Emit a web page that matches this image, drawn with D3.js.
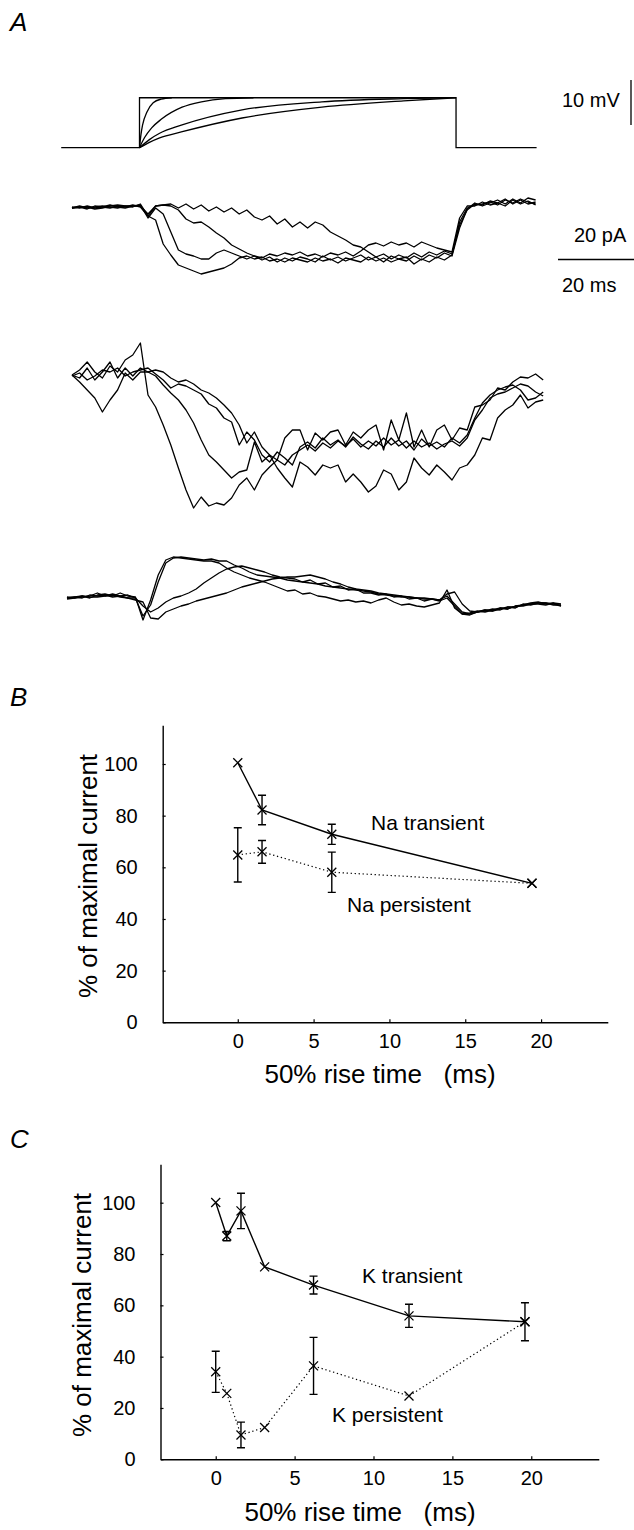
<!DOCTYPE html>
<html>
<head>
<meta charset="utf-8">
<script src="https://cdn.jsdelivr.net/npm/d3@7"></script>
<style>
  body { margin: 0; background: #fff; }
  svg { display: block; }
  text { font-family: "Liberation Sans", Arial, sans-serif; fill: #000; }
</style>
</head>
<body>
<div id="chart"></div>
<script>
// ---- panel A: command pulse (mV) and ramps, [ms, mV]
const commandPulse = [[-20.6, 0], [0, 0], [0, 11.1], [83.3, 11.1], [83.3, 0], [104.5, 0]];
const ramp1 = [[0, 0], [0.4, 3.0], [0.8, 5.0], [2, 8.0], [3.6, 10.0], [5.7, 10.8], [8.5, 11.1]];
const ramp2 = [[0, 0], [1.3, 2.2], [3.2, 4.4], [5.7, 6.3], [11.2, 9.0], [16.3, 10.2], [22.6, 10.9], [30, 11.1]];
const ramp3 = [[0, 0], [2.6, 1.8], [5.3, 3.2], [11, 5.0], [27, 8.4], [48, 10.2], [69.5, 10.9], [80, 11.1]];
const ramp4 = [[0, 0], [2.6, 1.2], [5.3, 2.2], [11, 3.5], [27, 6.6], [48, 9.0], [69.5, 10.4], [83.3, 11.1]];

// current sweeps sampled every 2 ms from -20 ms (pA)
const sweepStart = -20, sweepStep = 2;

const topTrace1 = [0, 0.5, -0.5, 1, 0.5, 0, 1, 0.5, 1.5, 0.5,
  -4, -6, -18, -23.5, -28.5, -30, -31.5, -33, -32, -31, -30, -28, -25, -24, -25.5, -24.5, -26.5, -25.5, -27, -25,
  -26, -27, -25, -26.5, -25.5, -27.5, -25, -26, -27, -24.5, -26.5, -25, -27, -25.5, -24.5, -28, -25.5, -27, -24.5, -26,
  -23.5, -7, 0, 1.5, 2, 3, 1.5, 4, 2.5, 4.5, 3, 2];
const topTrace2 = [0, 1, 0, 0.5, 1, 0.5, 0, 1, 1, 1.5,
  -5, 0, -3, -12, -21, -23, -24, -25.5, -25.5, -22.5, -21, -22.5, -24, -25.5, -24, -26, -24.5, -27, -25, -26.5,
  -24.5, -25.5, -27, -24, -26, -24.5, -26.5, -25, -23.5, -26, -24.5, -27, -24, -25.5, -26.5, -24, -26, -23.5, -25, -22.5,
  -24, -10, -0.5, 2.5, 1, 2.5, 4, 2, 4.5, 2.5, 5, 4];
const topTrace3 = [0.5, 0, 1, 0, 0.5, 1.5, 0.5, 0, 1, 1,
  -3, 1, 1.5, 1, -1, -5.5, -7.5, -7, -9.5, -12.5, -15, -18.5, -20.5, -22.5, -24, -25, -23, -24, -22.5, -23.5,
  -22, -24, -23, -24.5, -22.5, -23.5, -22, -24, -21.5, -18.5, -17.5, -19, -17, -18.5, -17.5, -19.5, -17, -18.5, -20, -21,
  -22, -5, 1, 1, 3, 1.5, 2.5, 4.5, 2, 4, 2, 3];
const topTrace4 = [0, 0.5, 0.5, -0.5, 0, 1, 1.5, 1, 0.5, 2,
  -4, 1, 1.5, 2, 0, 2, -0.5, 1.5, -1.5, 0.5, -2, 0, -3, -1, -4.5, -6, -4, -8, -5.5, -9.5,
  -7, -10, -7, -8.5, -12, -14, -16, -18.5, -19.5, -22, -24.5, -23, -25.5, -23.5, -25, -22.5, -24.5, -22, -23.5, -21.5,
  -23, -8.5, -1, 2, 1.5, 3.5, 2.5, 1, 4, 2, 3.5, 1.5];

const midTrace1 = [0, 2.5, 6.5, 1.5, -1.5, 4.5, 1.5, 7.5, 10, 16,
  -10, -16, -25, -35, -46.5, -57.5, -66.5, -61, -65.5, -64, -65, -61.5, -55, -51.5, -57.5, -50, -46, -42.5, -31.5, -27.5,
  -27.5, -37.5, -29, -32.5, -28.5, -27.5, -35, -28.5, -31.5, -27.5, -25,
  -37.5, -22.5, -32.5, -19, -36, -27.5, -36, -27.5, -25, -32.5, -26.5, -27.5, -16,
  -15, -12.5, -6.5, -7.5, -3.5, -1, -1.5, 0.5, -2.5];
const midTrace2 = [0, -1.5, 3.5, -2.5, 1.5, 6.5, -1.5, 3.5, -0.5, 3.5,
  1.5, -0.5, -5, -9, -12.5, -17.5, -24, -32.5, -40, -43.5, -47.5, -51.5, -48.5, -47.5, -33.5, -43.5, -40, -46.5, -51.5, -56,
  -43.5, -46, -50, -45, -46.5, -45, -53.5, -49.5, -53.5, -58.5, -55.5, -47.5, -49.5, -57.5, -53.5, -41.5, -46.5, -50, -45, -48.5,
  -52.5, -46.5, -45, -40, -31.5, -32.5, -21.5, -17.5, -15, -10, -16.5, -13.5, -12.5];
const midTrace3 = [-0.5, 1, -2.5, -0.5, 2.5, 1.5, 3.5, -0.5, 1.5, 2.5,
  3.5, 0.5, -2.5, -6.5, -4.5, -5.5, -7.5, -9.5, -14.5, -16.5, -21.5, -23.5, -35, -28.5, -32.5, -40, -43.5, -38.5, -41.5, -45,
  -36, -33.5, -36.5, -31.5, -35, -32.5, -36, -31, -34.5, -37, -33, -36, -31.5, -35.5, -33, -37.5, -32, -35.5, -33.5, -36,
  -31.5, -34, -30, -21.5, -14, -10, -7.5, -6, -5, -7.5, -12.5, -11.5, -8.5];
const midTrace4 = [0, -3.5, -7.5, -11.5, -18.5, -12.5, -7.5, 1, -2.5, 1.5,
  1.5, 2.5, 1.5, -1.5, -3.5, -2.5, -4.5, -7.5, -9, -11.5, -15, -19, -25, -34, -28.5, -36, -40, -42.5, -45, -40,
  -37.5, -35, -38, -34, -36.5, -33, -35.5, -32, -36, -33, -35.5, -31.5, -35, -32.5, -36.5, -33, -36, -34, -37, -34.5,
  -33, -35.5, -31.5, -22.5, -17.5, -11.5, -9.5, -8.5, -6.5, -4.5, -5.5, -8.5, -10.5];

const lowTrace1 = [0, 0.5, 1, 0, 1.5, 2, 1, 2.5, 1, 0.5,
  -11, -1, 11.5, 19, 20.5, 20, 19.5, 19, 18.5, 18.5, 17.5, 15, 13, 11.5, 10, 9, 8, 6.5, 5, 3.5,
  4, 2, 2.5, 1, 0.5, -0.5, -1.5, -1, -2, -1.5, -2.5, -1, 0, -2, -3.5, -3, -4, -4.5, -3.5, -2.5,
  4, -5, -8, -8.5, -7, -6, -6.5, -5, -5.5, -4, -3.5, -2.5, -2, -3, -2.5, -4];
const lowTrace2 = [0.5, 0, 0.5, 1, 2.5, 1, 2, 1, 0, 0,
  -9, -3.5, 8, 17.5, 20, 20.5, 20, 19.5, 19, 19.5, 18.5, 18.5, 16.5, 15, 13, 11.5, 11, 10.5, 10, 9,
  8.5, 8, 7.5, 7, 6, 5.5, 5, 4.5, 4, 3.5, 3, 2, 1.5, 1, 0.5, 0.5, 0, -0.5, -0.5, -1,
  2, 3, -3, -6.5, -7, -6.5, -5.5, -6, -4.5, -5, -3, -3.5, -2.5, -2.5, -3.5, -3.5];
const lowTrace3 = [0, 0.5, 0, 1.5, 1, 1.5, 0.5, 1, 1.5, 0,
  -4, -7, -5, -2, 0, 1, 2.5, 4.5, 7.5, 10, 12.5, 14.5, 15.5, 16, 15, 14, 13, 11.5, 10.5, 10,
  9.5, 8, 9, 7, 7.5, 5.5, 6, 4, 4.5, 2.5, 2.5, 1.5, 2, 0.5, 1, -0.5, 0, -1.5, -0.5, -1.5,
  0, -4, -8, -7.5, -6.5, -7, -6, -5, -5.5, -4, -4, -3, -3, -3.5, -2.5, -3];
const lowTrace4 = [-0.5, 0, 1, 0.5, 0.5, 1, 1.5, 0.5, 0, -1,
  -2, -10, -10.5, -7, -5.5, -4, -3, -1.5, -0.5, 0.5, 1.5, 2.5, 4, 5.5, 6.5, 7.5, 8.5, 9.5, 10, 10.5,
  10.5, 11, 11.5, 10.5, 9.5, 8, 7, 5.5, 4.5, 4, 3.5, 2.5, 2, 1.5, 1, 0.5, 0, 0, -0.5, -1,
  1, -3, -7, -8, -7, -6, -6.5, -5.5, -4.5, -4.5, -3.5, -3, -2.5, -2.5, -3, -4];

// ---- panel B: Na currents vs 50% rise time
const riseNa = [0, 1.6, 6.2, 19.4];
const naTransient = [100.5, 82.2, 72.8, 53.8];
const naTransientErr = [0, 5.7, 3.9, 0];
const naPersistent = [64.8, 66.0, 58.1, 53.8];
const naPersistentErr = [10.5, 4.4, 7.8, 0];

// ---- panel C: K currents vs 50% rise time
const riseK = [0, 0.7, 1.6, 3.1, 6.2, 12.25, 19.6];
const kTransient = [100.1, 87.0, 96.8, 75.0, 67.9, 55.9, 53.6];
const kTransientErr = [0, 1.8, 6.9, 0, 3.5, 4.5, 7.4];
const kPersistent = [34.1, 25.7, 9.5, 12.4, 36.4, 24.7, 53.6];
const kPersistentErr = [8, 0, 5, 0, 11.1, 0, 0];

const xTicks = [0, 5, 10, 15, 20];
const yTicks = [0, 20, 40, 60, 80, 100];

const W = 634, H = 1530;
const pxPerMs = 3.8;

const svg = d3.select('#chart').append('svg')
  .attr('width', W)
  .attr('height', H);

function panelLetter(label, y) {
  svg.append('text')
    .attr('x', 10).attr('y', y)
    .attr('font-size', 26)
    .attr('font-style', 'italic')
    .text(label);
}

// time scale sharing one ms->px ratio
function timeScale(x0) {
  return d3.scaleLinear().domain([0, 100]).range([x0, x0 + 100 * pxPerMs]);
}

function sweepLine(x, y) {
  return d3.line()
    .x((d, i) => x(sweepStart + i * sweepStep))
    .y(d => y(d));
}

function drawSweeps(traces, x, y) {
  const line = sweepLine(x, y);
  svg.append('g')
    .attr('fill', 'none')
    .attr('stroke', '#000')
    .attr('stroke-width', 1.3)
    .attr('stroke-linejoin', 'round')
    .selectAll('path')
    .data(traces)
    .join('path')
    .attr('d', line);
}

// ---------- A ----------
panelLetter('A', 31);

const xCmd = timeScale(139.5);
const yCmd = d3.scaleLinear().domain([0, 10]).range([147.7, 102.7]);
const cmdLine = d3.line().x(d => xCmd(d[0])).y(d => yCmd(d[1]));

svg.append('path')
  .attr('d', cmdLine(commandPulse))
  .attr('fill', 'none').attr('stroke', '#000').attr('stroke-width', 1.3);

svg.append('g')
  .attr('fill', 'none')
  .attr('stroke', '#000')
  .attr('stroke-width', 1.3)
  .selectAll('path')
  .data([ramp1, ramp2, ramp3, ramp4])
  .join('path')
  .attr('d', d3.line().x(d => xCmd(d[0])).y(d => yCmd(d[1])).curve(d3.curveMonotoneX));

// scale bars
svg.append('line')
  .attr('x1', 631).attr('x2', 631)
  .attr('y1', 80).attr('y2', 80 + (yCmd(0) - yCmd(10)))
  .attr('stroke', '#000').attr('stroke-width', 1.3);
svg.append('text').attr('x', 562).attr('y', 107).attr('font-size', 20).text('10 mV');

svg.append('line')
  .attr('x1', 558).attr('x2', 558 + 20 * pxPerMs)
  .attr('y1', 259.5).attr('y2', 259.5)
  .attr('stroke', '#000').attr('stroke-width', 1.3);
svg.append('text').attr('x', 574).attr('y', 242).attr('font-size', 20).text('20 pA');
svg.append('text').attr('x', 562).attr('y', 292).attr('font-size', 20).text('20 ms');

// current sweeps
const yTop = d3.scaleLinear().domain([0, -40]).range([208, 288]);
drawSweeps([topTrace1, topTrace2, topTrace3, topTrace4], timeScale(148), yTop);

const yMid = d3.scaleLinear().domain([0, -70]).range([375, 515]);
drawSweeps([midTrace1, midTrace2, midTrace3, midTrace4], timeScale(148), yMid);

const yLow = d3.scaleLinear().domain([0, 20]).range([598, 558]);
drawSweeps([lowTrace1, lowTrace2, lowTrace3, lowTrace4], timeScale(143), yLow);

// ---------- B and C ----------
function drawPlot(cfg) {
  const x = d3.scaleLinear().domain(cfg.xDomain).range(cfg.xRange);
  const y = d3.scaleLinear().domain([0, 115]).range(cfg.yRange);
  const g = svg.append('g');

  g.append('g')
    .attr('transform', `translate(0,${cfg.yRange[0]})`)
    .call(d3.axisBottom(x).tickValues(xTicks).tickSizeInner(-3).tickSizeOuter(0).tickPadding(cfg.xPad))
    .call(a => a.select('.domain').attr('stroke-width', 1.4))
    .call(a => a.selectAll('.tick line').attr('stroke-width', 1.2))
    .call(a => a.selectAll('.tick text').attr('font-size', 20).attr('font-family', null));

  g.append('g')
    .attr('transform', `translate(${cfg.xRange[0]},0)`)
    .call(d3.axisLeft(y).tickValues(yTicks).tickSizeInner(-3).tickSizeOuter(0).tickPadding(25))
    .call(a => a.select('.domain').attr('stroke-width', 1.4))
    .call(a => a.selectAll('.tick line').attr('stroke-width', 1.2))
    .call(a => a.selectAll('.tick text').attr('font-size', 20).attr('font-family', null));

  g.append('text')
    .attr('x', cfg.xTitle[0]).attr('y', cfg.xTitle[1])
    .attr('text-anchor', 'middle')
    .attr('font-size', 26)
    .style('white-space', 'pre')
    .text('50% rise time   (ms)');

  g.append('text')
    .attr('transform', `translate(${cfg.yTitle[0]},${cfg.yTitle[1]}) rotate(-90)`)
    .attr('text-anchor', 'middle')
    .attr('font-size', 26)
    .text('% of maximal current');

  cfg.series.forEach(s => {
    const pts = cfg.rise.map((t, i) => ({ t, v: s.values[i], e: s.err[i] }));

    g.append('path')
      .attr('d', d3.line().x(d => x(d.t)).y(d => y(d.v))(pts))
      .attr('fill', 'none')
      .attr('stroke', '#000')
      .attr('stroke-width', s.dotted ? 1.2 : 1.4)
      .attr('stroke-dasharray', s.dotted ? '1.3,2.7' : null);

    const bars = g.append('g').attr('stroke', '#000').attr('stroke-width', 1.4).attr('fill', 'none');
    pts.filter(d => d.e > 0).forEach(d => {
      const cx = x(d.t), y1 = y(d.v + d.e), y2 = y(d.v - d.e);
      bars.append('path').attr('d', `M${cx},${y1}V${y2}M${cx - 4},${y1}H${cx + 4}M${cx - 4},${y2}H${cx + 4}`);
    });

    g.append('g')
      .selectAll('path')
      .data(pts)
      .join('path')
      .attr('transform', d => `translate(${x(d.t)},${y(d.v)})`)
      .attr('d', 'M-4.5,-4.5L4.5,4.5M-4.5,4.5L4.5,-4.5')
      .attr('stroke', '#000')
      .attr('stroke-width', 1.3);
  });

  cfg.labels.forEach(l => {
    g.append('text').attr('x', l[1]).attr('y', l[2]).attr('font-size', 21).text(l[0]);
  });
}

panelLetter('B', 706);
drawPlot({
  xDomain: [-4.95, 24.4], xRange: [162.7, 607.8],
  yRange: [1022.3, 1022.3 - 115 * 2.583],
  xPad: 12,
  xTitle: [380, 1083], yTitle: [97, 876],
  rise: riseNa,
  series: [
    { values: naTransient, err: naTransientErr, dotted: false },
    { values: naPersistent, err: naPersistentErr, dotted: true }
  ],
  labels: [['Na transient', 371, 830], ['Na persistent', 347, 912]]
});

panelLetter('C', 1148);
drawPlot({
  xDomain: [-3.5, 24.28], xRange: [160.5, 598.8],
  yRange: [1459.3, 1459.3 - 115 * 2.566],
  xPad: 11.5,
  xTitle: [360, 1521], yTitle: [91, 1315],
  rise: riseK,
  series: [
    { values: kTransient, err: kTransientErr, dotted: false },
    { values: kPersistent, err: kPersistentErr, dotted: true }
  ],
  labels: [['K transient', 362, 1283], ['K persistent', 332, 1422]]
});
</script>
</body>
</html>
